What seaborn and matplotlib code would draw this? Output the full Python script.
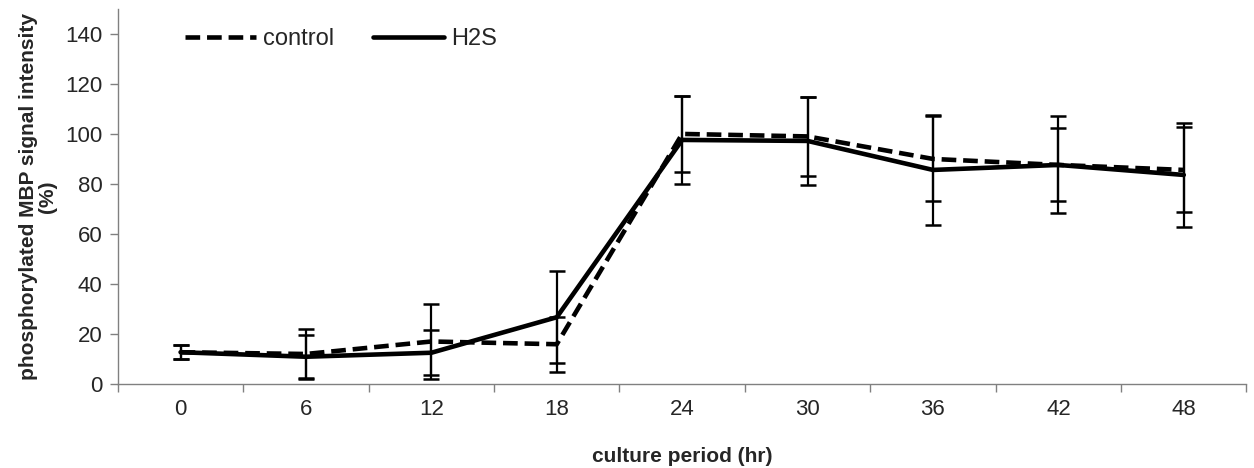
import matplotlib
matplotlib.use("Agg")
import matplotlib.pyplot as plt
import seaborn as sns
import pandas as pd
import numpy as np

hours = ["0", "6", "12", "18", "24", "30", "36", "42", "48"]
control = [12.7, 12.0, 17.0, 15.9, 100.0, 99.0, 90.0, 87.6, 85.6]
control_err = [2.8, 10.0, 15.0, 11.0, 15.2, 15.7, 17.0, 19.4, 17.0]
h2s = [12.7, 10.9, 12.5, 26.7, 97.6, 97.2, 85.6, 87.6, 83.6]
h2s_err = [2.8, 8.5, 9.0, 18.5, 17.6, 17.5, 22.0, 14.6, 20.7]

sns.set_theme(style="white")
plt.rcParams['font.family'] = ['Liberation Sans', 'DejaVu Sans']

pos = np.arange(len(hours))
df = pd.DataFrame({
    "pos": np.concatenate([pos, pos]),
    "value": control + h2s,
    "series": ["control"] * len(hours) + ["H2S"] * len(hours),
})

fig = plt.figure(figsize=(12.54, 4.68), dpi=100)
ax = fig.add_axes([0.094, 0.1795, 0.9, 0.8015])

sns.lineplot(data=df, x="pos", y="value", style="series",
             dashes={"control": (3.2, 1.5), "H2S": ""},
             color="black", linewidth=3.3, ax=ax, legend=True)

ax.errorbar(pos, control, yerr=control_err, fmt="none", ecolor="black",
            elinewidth=1.6, capsize=6, capthick=1.8, zorder=3)
ax.errorbar(pos, h2s, yerr=h2s_err, fmt="none", ecolor="black",
            elinewidth=1.6, capsize=6, capthick=1.8, zorder=3)

ax.set_xlim(-0.5, len(hours) - 0.5)
ax.set_ylim(0, 150)
ax.set_yticks(np.arange(0, 141, 20))
ax.set_xticks(pos)
ax.set_xticklabels(hours)
ax.set_xticks(np.arange(-0.5, len(hours)), minor=True)

ax.tick_params(axis="x", which="major", length=0, labelsize=16, pad=11)
ax.tick_params(axis="x", which="minor", length=6, width=1, color="#808080",
               direction="out", bottom=True)
ax.tick_params(axis="y", length=6, width=1, color="#808080", direction="out",
               left=True, labelsize=16, pad=5)

for s in ["top", "right"]:
    ax.spines[s].set_visible(False)
for s in ["left", "bottom"]:
    ax.spines[s].set_color("#808080")
    ax.spines[s].set_linewidth(1)

ax.set_xlabel("culture period (hr)", fontsize=15, fontweight="bold", labelpad=19)
ax.set_ylabel("phosphorylated MBP signal intensity\n(%)", fontsize=15,
              fontweight="bold", labelpad=6, linespacing=1.0)

handles, labels = ax.get_legend_handles_labels()
ax.legend(handles, labels, loc="upper left", bbox_to_anchor=(0.041, 1.005),
          ncol=2, frameon=False, fontsize=17, handlelength=3.0,
          columnspacing=1.65, handletextpad=0.3)

fig.savefig("out.png", dpi=100)
